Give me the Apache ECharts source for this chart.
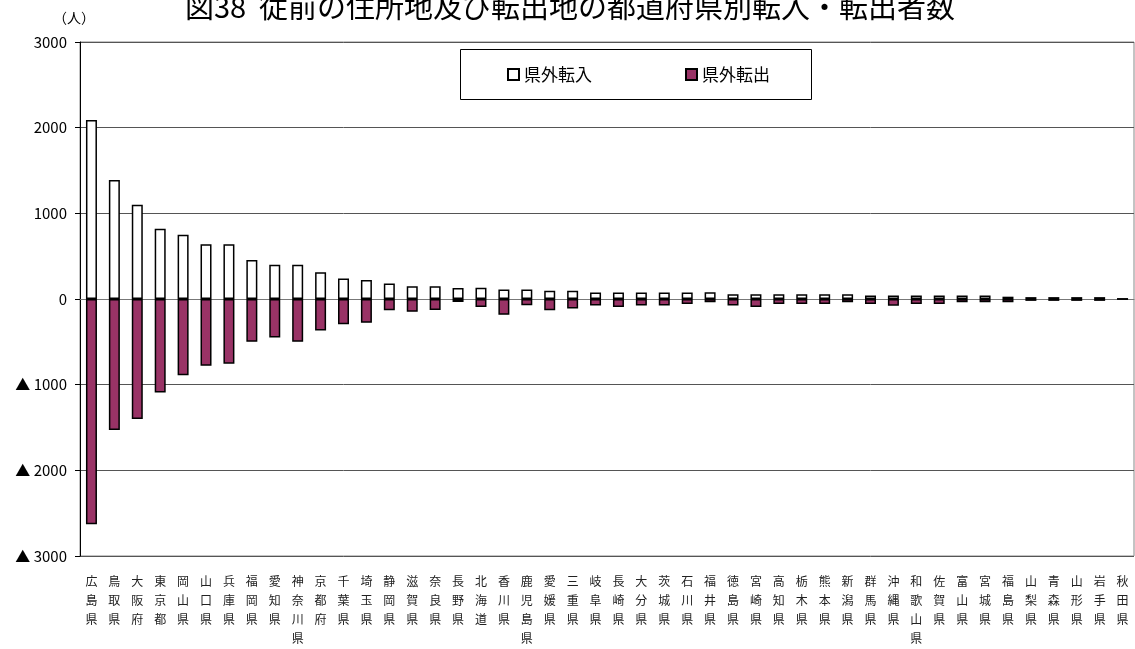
<!DOCTYPE html>
<html>
<head>
<meta charset="utf-8">
<script src="https://cdn.jsdelivr.net/npm/echarts@6.0.0/dist/echarts.min.js"></script>
<style>
  html, body { margin: 0; padding: 0; background: #fff; }
  #chart { width: 1135px; height: 649px; }
</style>
</head>
<body>
<div id="chart"></div>
<script>
'use strict';

// 都道府県（島根県からの転入・転出）
const categories = [
    '広島県', '鳥取県', '大阪府', '東京都', '岡山県', '山口県', '兵庫県', '福岡県',
    '愛知県', '神奈川県', '京都府', '千葉県', '埼玉県', '静岡県', '滋賀県', '奈良県',
    '長野県', '北海道', '香川県', '鹿児島県', '愛媛県', '三重県', '岐阜県', '長崎県',
    '大分県', '茨城県', '石川県', '福井県', '徳島県', '宮崎県', '高知県', '栃木県',
    '熊本県', '新潟県', '群馬県', '沖縄県', '和歌山県', '佐賀県', '富山県', '宮城県',
    '福島県', '山梨県', '青森県', '山形県', '岩手県', '秋田県'
];

const inValues = [
    2090, 1390, 1100, 820, 750, 640, 640, 455,
    400, 400, 312, 240, 222, 180, 150, 150,
    128, 130, 112, 110, 95, 95, 75, 75,
    75, 75, 75, 80, 55, 55, 55, 55,
    55, 55, 40, 40, 40, 40, 40, 40,
    27, 22, 22, 22, 22, 0
];

const outValues = [
    -2630, -1530, -1400, -1090, -890, -780, -755, -500,
    -450, -500, -367, -295, -278, -130, -150, -128,
    -36, -92, -185, -72, -130, -110, -76, -94,
    -76, -76, -58, -39, -76, -94, -58, -58,
    -58, -39, -58, -78, -58, -58, -39, -39,
    -39, -22, -22, -22, -22, 0
];

const seriesNames = ['県外転入', '県外転出'];
const yTicks = { min: -3000, max: 3000, interval: 1000 };

const font = '"Noto Sans CJK JP", "Noto Sans", sans-serif';

const option = {
    animation: false,
    backgroundColor: '#fff',
    textStyle: { fontFamily: font },
    grid: {
        left: 80,
        right: 1,
        top: 42,
        bottom: 93,
        show: true,
        borderColor: '#888',
        borderWidth: 1
    },
    graphic: [
        {
            type: 'text',
            x: 570,
            y: 7,
            style: {
                text: '図38  従前の住所地及び転出地の都道府県別転入・転出者数',
                fontSize: 29,
                fontFamily: font,
                fill: '#000',
                align: 'center',
                verticalAlign: 'middle'
            }
        },
        {
            type: 'text',
            x: 74,
            y: 18,
            style: {
                text: '（人）',
                fontSize: 14,
                fontFamily: font,
                fill: '#000',
                align: 'center',
                verticalAlign: 'middle'
            }
        },
        {
            type: 'rect',
            shape: { x: 460.5, y: 49.5, width: 351, height: 50 },
            style: { fill: '#fff', stroke: '#000', lineWidth: 1 },
            z: 5
        }
    ],
    legend: {
        data: seriesNames,
        left: 507,
        top: 66,
        padding: 0,
        icon: 'rect',
        itemWidth: 11,
        itemHeight: 11,
        itemGap: 93,
        z: 10,
        textStyle: { fontSize: 17, color: '#000', fontFamily: font }
    },
    xAxis: [
        {
            type: 'category',
            data: categories,
            axisLine: { onZero: true, lineStyle: { color: '#777', width: 1 } },
            axisTick: { inside: true, length: 4, interval: 0, lineStyle: { color: '#777' } },
            axisLabel: { show: false },
            splitLine: { show: false }
        },
        {
            type: 'category',
            data: categories,
            position: 'bottom',
            axisLine: { show: false, onZero: false },
            axisTick: { show: false },
            axisLabel: {
                interval: 0,
                margin: 16,
                fontSize: 12,
                lineHeight: 19,
                color: '#222',
                fontFamily: font,
                verticalAlign: 'top',
                formatter: function (v) {
                    return v.split('').join('\n');
                }
            }
        }
    ],
    yAxis: {
        type: 'value',
        min: yTicks.min,
        max: yTicks.max,
        interval: yTicks.interval,
        axisLine: { show: true, lineStyle: { color: '#000' } },
        axisTick: { show: true, length: 5, lineStyle: { color: '#000' } },
        splitLine: { lineStyle: { color: '#555', width: 1 } },
        axisLabel: {
            margin: 13,
            fontSize: 15,
            color: '#000',
            fontFamily: font,
            formatter: function (v) {
                return v < 0 ? '▲ ' + (-v) : String(v);
            }
        }
    },
    series: [
        {
            name: seriesNames[0],
            type: 'bar',
            xAxisIndex: 0,
            data: inValues,
            barWidth: 11,
            barGap: '-100%',
            itemStyle: { color: '#fff', borderColor: '#000', borderWidth: 1.5 }
        },
        {
            name: seriesNames[1],
            type: 'bar',
            xAxisIndex: 0,
            data: outValues,
            barWidth: 11,
            barGap: '-100%',
            itemStyle: { color: '#993366', borderColor: '#000', borderWidth: 1.5 }
        }
    ]
};

const chartDom = document.getElementById('chart');
const myChart = echarts.init(chartDom);
myChart.setOption(option);
window.addEventListener('resize', function () {
    myChart.resize();
});
</script>
</body>
</html>
